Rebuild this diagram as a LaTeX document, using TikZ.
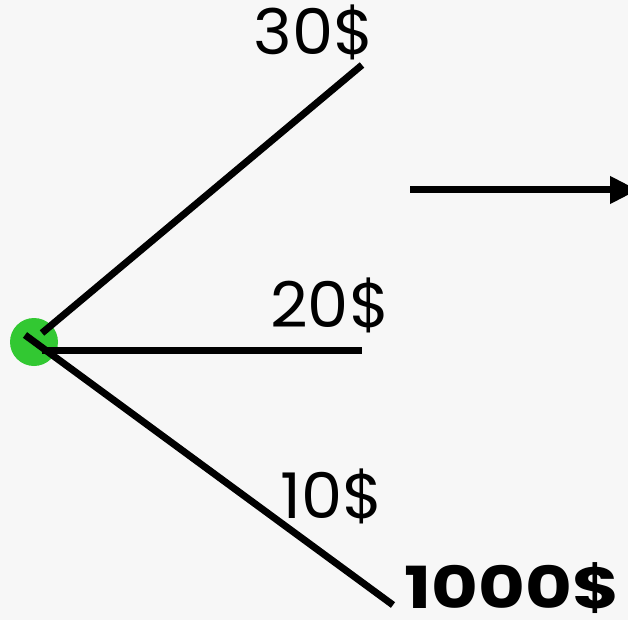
\documentclass[tikz,border=0pt]{standalone}
\usepackage{fontspec}
\setmainfont{Poppins}
\usepackage{tikz}
\usetikzlibrary{arrows.meta}
\usepackage{xcolor}
\definecolor{bggray}{RGB}{247,247,247}
\definecolor{dotgreen}{RGB}{50,200,50}

\begin{document}
\begin{tikzpicture}[x=1pt, y=-1pt,
    branch/.style={line width=7pt},
    price/.style={font=\fontsize{63}{63}\selectfont, inner sep=0pt, anchor=base}
]
\fill[bggray] (0,0) rectangle (628,620);
\useasboundingbox (0,0) rectangle (628,620);

% starting point
\node[circle, fill=dotgreen, minimum size=48pt, inner sep=0pt] (root) at (34,342) {};
\coordinate (upstart) at (42,333);
\coordinate (midstart) at (42,350);
\coordinate (lowstart) at (25,335);
\coordinate (up) at (362,65);
\coordinate (mid) at (362,350);
\coordinate (low) at (393,605);

\draw[branch] (upstart) -- (up);
\draw[branch] (midstart) -- (mid);
\draw[branch] (lowstart) -- (low);

\node[price, xscale=1.04] (p30) at (314,55) {30\$};
\node[price, xscale=1.04] (p20) at (330,327) {20\$};
\node[price, xscale=1.04] (p10) at (332,518) {10\$};
\node[price, font=\fontsize{58}{58}\selectfont\bfseries, xscale=1.24] (p1000) at (512,608) {1000\$};

% arrow
\coordinate (afrom) at (410,190);
\coordinate (ato) at (638,190);
\draw[branch, -{Triangle[length=28pt, width=26pt]}] (afrom) -- (ato);
\end{tikzpicture}
\end{document}
